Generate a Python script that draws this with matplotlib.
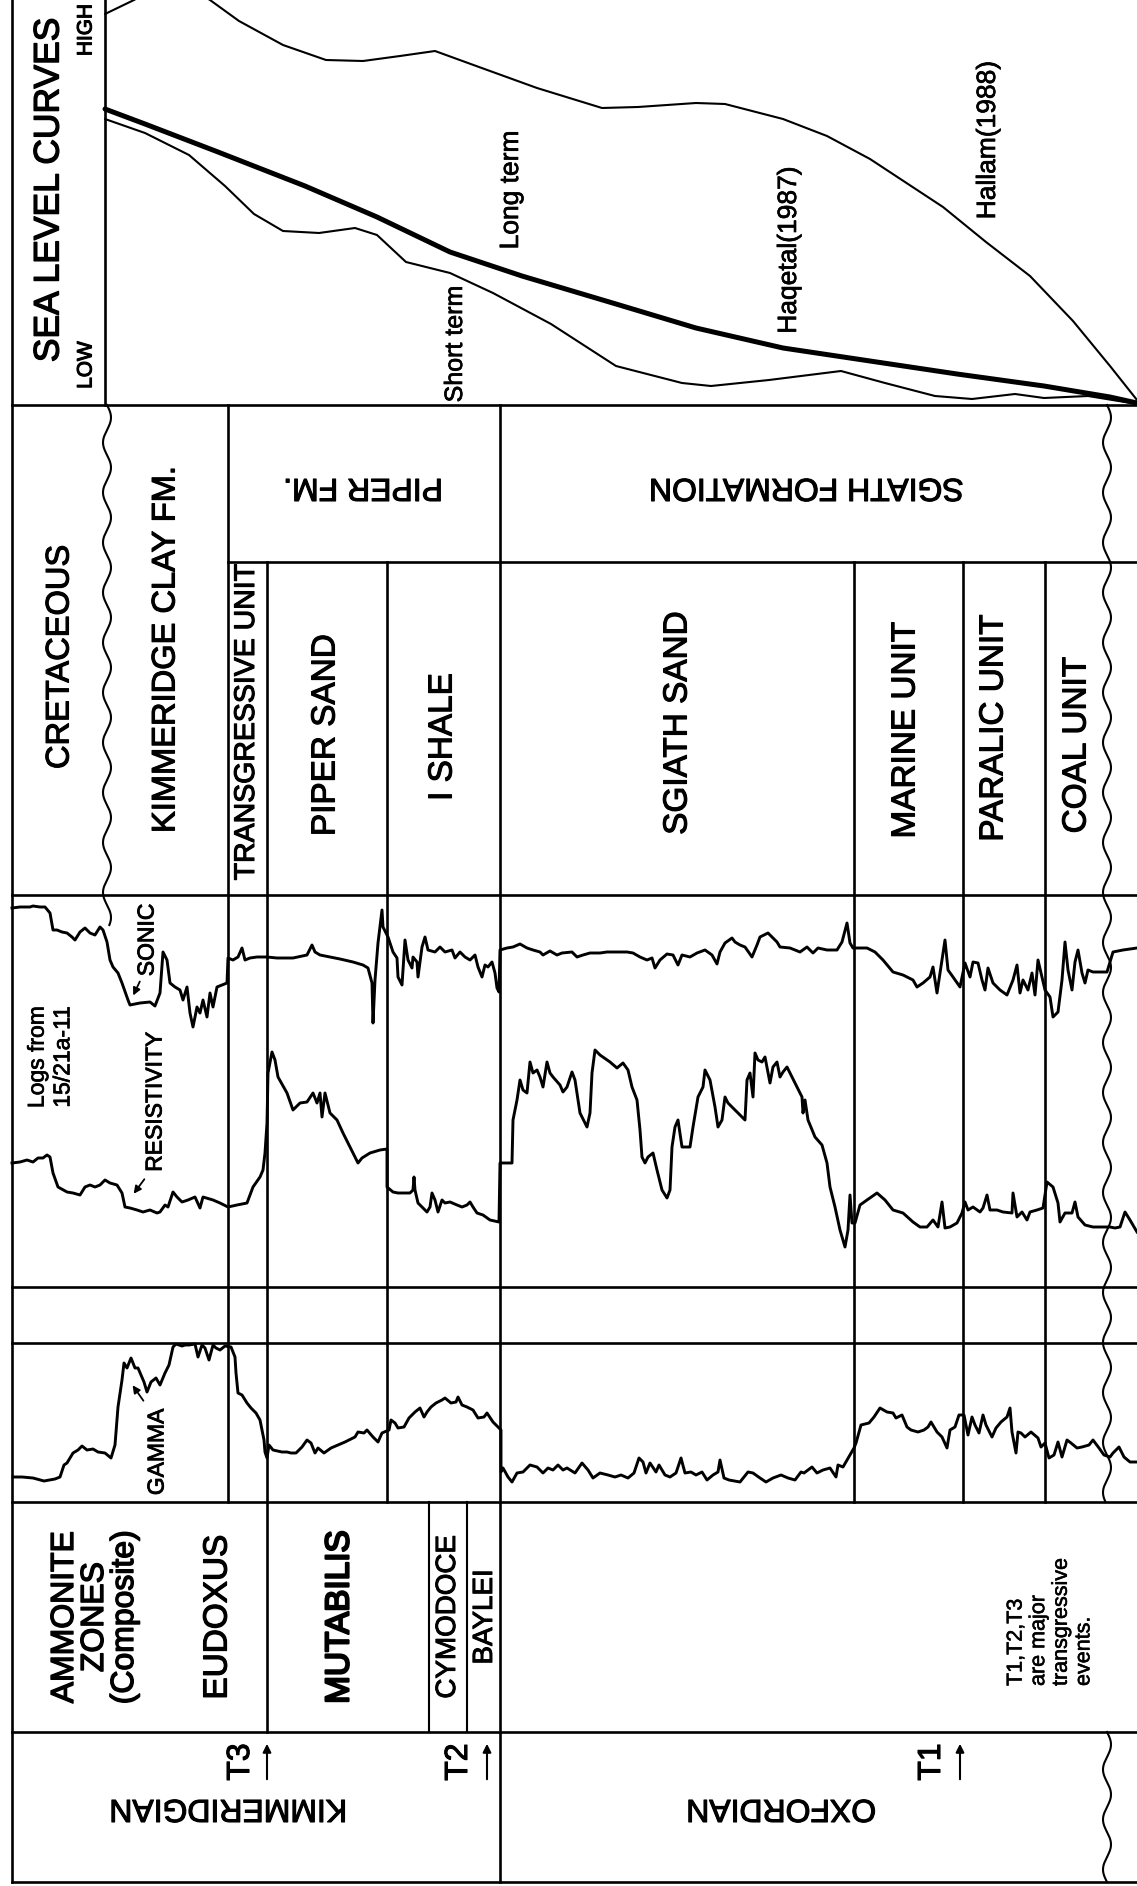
import numpy as np
import matplotlib
matplotlib.use('Agg')
import matplotlib.pyplot as plt
import matplotlib.patheffects as pe

plt.rcParams['font.family'] = ['Liberation Sans', 'DejaVu Sans']

# ---- layout of the column (pixel units, depth runs left -> right) ----
W, H = 1137, 1886
left_edge = 12
sea_axis = 105
row_edges = {'sea': 405, 'fm': 562, 'logs': 895, 'gap': 1287,
             'gamma': 1343, 'ammo': 1502, 'stage': 1732, 'bottom': 1882}
unit_edges = [228, 267, 387, 500, 854, 963, 1045]
ammo_edges = [267, 429, 467, 500]
unconf_top = 107
unconf_base = 1107

# ---- sea level curves (depth, level) ----
hallam = [(105, 14), (134, 0), (160, -15), (190, -12), (210, 0), (239, 21), (283, 45),
          (326, 60), (363, 61), (400, 56), (435, 51), (479, 67), (537, 88), (602, 108),
          (638, 107), (696, 103), (725, 104), (783, 119), (827, 136), (870, 159),
          (943, 207), (986, 242), (1030, 276), (1073, 321), (1110, 366), (1137, 400)]
long_term = [(105, 109), (145, 124), (218, 152), (305, 186), (377, 217), (450, 252),
             (522, 276), (616, 304), (696, 328), (783, 348), (870, 361), (957, 374),
             (1044, 386), (1110, 397), (1137, 403)]
short_term = [(105, 119), (145, 133), (189, 155), (225, 186), (254, 214), (283, 231),
              (319, 233), (355, 228), (377, 235), (406, 262), (450, 273), (493, 293),
              (551, 324), (616, 366), (682, 383), (711, 386), (769, 380), (841, 371),
              (885, 383), (935, 396), (972, 399), (1015, 394), (1044, 398), (1088, 396),
              (1137, 404)]

# ---- well logs 15/21a-11 (depth, trace) ----
sonic = [(12, 908), (20, 907), (30, 907), (33, 906), (40, 907), (45, 907), (50, 913),
         (53, 930), (57, 930), (62, 932), (67, 933), (72, 937), (75, 940), (80, 932),
         (85, 928), (90, 933), (95, 935), (100, 927), (103, 930), (107, 942), (110, 960),
         (113, 967), (118, 973), (122, 983), (128, 1000), (130, 1005), (140, 1003),
         (150, 1002), (155, 1006), (160, 993), (163, 952), (167, 960), (170, 983),
         (175, 987), (180, 990), (183, 1000), (187, 987), (190, 1013), (193, 1027),
         (197, 1007), (200, 1013), (203, 1000), (207, 1017), (210, 993), (213, 1007),
         (217, 987), (222, 985), (227, 983), (228, 958), (233, 960), (238, 957),
         (242, 948), (245, 960), (250, 958), (257, 957), (267, 957), (277, 958),
         (293, 958), (307, 955), (312, 945), (315, 952), (320, 955), (330, 957),
         (340, 959), (353, 962), (363, 965), (368, 968), (372, 983), (373, 1023),
         (375, 980), (378, 943), (382, 910), (383, 927), (388, 937), (390, 943),
         (393, 952), (397, 958), (398, 977), (402, 985), (405, 940), (408, 960),
         (412, 968), (413, 957), (417, 962), (418, 977), (422, 947), (425, 937),
         (428, 950), (435, 952), (440, 947), (445, 952), (452, 950), (455, 958),
         (460, 952), (465, 957), (470, 960), (475, 955), (478, 967), (482, 977),
         (485, 965), (488, 967), (492, 962), (495, 973), (497, 988), (499, 992),
         (500, 950), (507, 948), (513, 947), (520, 944), (527, 948), (533, 950),
         (540, 952), (543, 955), (550, 951), (557, 955), (562, 953), (572, 952),
         (577, 957), (583, 955), (590, 953), (600, 953), (607, 952), (613, 952),
         (627, 952), (633, 953), (640, 957), (647, 960), (652, 958), (655, 968),
         (660, 960), (667, 954), (673, 955), (678, 965), (682, 955), (690, 957),
         (697, 953), (705, 950), (712, 955), (717, 964), (720, 952), (725, 943),
         (732, 938), (735, 942), (740, 945), (745, 947), (752, 957), (757, 945),
         (760, 937), (768, 933), (770, 935), (777, 942), (780, 947), (790, 948),
         (800, 952), (807, 947), (813, 953), (818, 948), (827, 950), (837, 950),
         (842, 942), (847, 923), (850, 943), (853, 948), (867, 948), (875, 952),
         (883, 960), (893, 972), (903, 975), (913, 980), (917, 987), (923, 983),
         (930, 977), (933, 967), (937, 993), (942, 960), (945, 940), (948, 970),
         (953, 977), (960, 987), (965, 963), (970, 977), (973, 962), (978, 963),
         (982, 980), (985, 990), (988, 968), (993, 983), (1000, 990), (1007, 995),
         (1013, 980), (1017, 965), (1020, 993), (1023, 980), (1028, 990), (1032, 973),
         (1035, 995), (1038, 960), (1042, 977), (1045, 990), (1050, 997), (1053, 1017),
         (1058, 1012), (1062, 980), (1065, 942), (1068, 970), (1072, 990), (1075, 962),
         (1078, 950), (1082, 973), (1085, 983), (1088, 970), (1093, 972), (1107, 972),
         (1113, 952), (1123, 950), (1137, 948)]

resistivity = [(12, 1163), (20, 1162), (27, 1160), (33, 1162), (38, 1158), (43, 1158),
               (47, 1155), (50, 1157), (53, 1173), (58, 1187), (67, 1192), (73, 1193),
               (80, 1195), (85, 1187), (90, 1185), (95, 1187), (100, 1185), (105, 1180),
               (110, 1183), (117, 1185), (122, 1193), (125, 1207), (130, 1208),
               (137, 1210), (143, 1212), (150, 1210), (157, 1213), (160, 1212),
               (165, 1205), (168, 1207), (173, 1192), (177, 1197), (182, 1202),
               (188, 1200), (195, 1197), (200, 1208), (203, 1197), (213, 1200),
               (220, 1203), (228, 1207), (237, 1205), (247, 1203), (253, 1187),
               (260, 1177), (263, 1170), (265, 1153), (267, 1123), (268, 1073),
               (272, 1052), (275, 1060), (278, 1077), (287, 1093), (293, 1110),
               (300, 1103), (307, 1102), (313, 1093), (317, 1103), (320, 1093),
               (322, 1117), (325, 1093), (330, 1113), (337, 1120), (343, 1133),
               (350, 1147), (358, 1163), (362, 1158), (370, 1153), (380, 1150),
               (387, 1149), (387, 1187), (393, 1192), (398, 1193), (405, 1193),
               (410, 1193), (413, 1190), (414, 1177), (415, 1190), (418, 1203),
               (423, 1208), (427, 1212), (430, 1207), (432, 1193), (435, 1200),
               (438, 1212), (442, 1200), (445, 1203), (450, 1202), (457, 1205),
               (462, 1207), (467, 1205), (470, 1202), (473, 1207), (477, 1213),
               (483, 1215), (490, 1220), (499, 1222), (500, 1163), (512, 1163),
               (513, 1120), (517, 1100), (520, 1080), (523, 1090), (527, 1093),
               (530, 1062), (533, 1073), (537, 1070), (540, 1077), (543, 1087),
               (547, 1062), (550, 1073), (553, 1077), (560, 1085), (563, 1092),
               (567, 1087), (572, 1072), (575, 1080), (580, 1113), (587, 1127),
               (590, 1113), (592, 1073), (595, 1050), (600, 1055), (610, 1062),
               (617, 1068), (623, 1063), (628, 1070), (632, 1087), (637, 1100),
               (640, 1130), (642, 1157), (645, 1163), (648, 1157), (653, 1153),
               (657, 1170), (662, 1190), (667, 1198), (670, 1190), (672, 1147),
               (675, 1127), (678, 1120), (682, 1147), (685, 1147), (690, 1147),
               (693, 1127), (698, 1097), (703, 1087), (705, 1070), (710, 1080),
               (715, 1107), (718, 1127), (722, 1120), (725, 1097), (728, 1103),
               (735, 1110), (742, 1117), (745, 1120), (747, 1080), (750, 1073),
               (753, 1097), (755, 1053), (758, 1060), (762, 1062), (765, 1057),
               (770, 1083), (773, 1067), (777, 1062), (780, 1077), (783, 1072),
               (787, 1067), (792, 1077), (797, 1087), (802, 1097), (803, 1113),
               (805, 1100), (808, 1120), (815, 1137), (822, 1145), (827, 1163),
               (830, 1187), (835, 1207), (840, 1230), (845, 1247), (848, 1230),
               (850, 1195), (852, 1223), (855, 1223), (860, 1205), (867, 1200),
               (877, 1193), (885, 1200), (893, 1210), (903, 1213), (913, 1222),
               (920, 1227), (927, 1227), (933, 1220), (938, 1227), (942, 1202),
               (945, 1228), (950, 1227), (957, 1223), (962, 1213), (965, 1202),
               (968, 1210), (973, 1207), (980, 1212), (983, 1208), (987, 1195),
               (990, 1210), (997, 1210), (1003, 1212), (1012, 1213), (1013, 1193),
               (1017, 1217), (1022, 1212), (1027, 1220), (1030, 1212), (1037, 1210),
               (1043, 1208), (1047, 1182), (1053, 1187), (1058, 1203), (1060, 1222),
               (1065, 1213), (1072, 1213), (1075, 1202), (1078, 1217), (1085, 1225),
               (1093, 1227), (1103, 1227), (1110, 1227), (1115, 1228), (1120, 1227),
               (1125, 1212), (1130, 1220), (1137, 1232)]

gamma = [(13, 1477), (22, 1477), (33, 1478), (44, 1481), (55, 1479), (60, 1477),
         (64, 1465), (67, 1463), (73, 1453), (78, 1450), (82, 1446), (87, 1450),
         (93, 1449), (98, 1452), (105, 1453), (111, 1458), (115, 1445), (118, 1407),
         (122, 1380), (124, 1363), (127, 1368), (131, 1358), (135, 1368), (138, 1368),
         (144, 1382), (147, 1392), (151, 1382), (156, 1378), (160, 1385), (165, 1373),
         (169, 1365), (173, 1347), (176, 1344), (182, 1346), (185, 1345), (189, 1345),
         (195, 1344), (198, 1357), (202, 1345), (205, 1348), (209, 1360), (213, 1345),
         (216, 1348), (220, 1350), (225, 1346), (231, 1347), (235, 1357), (236, 1373),
         (238, 1393), (242, 1395), (247, 1403), (251, 1408), (256, 1413), (260, 1420),
         (264, 1440), (265, 1452), (267, 1458), (269, 1445), (273, 1450), (282, 1452),
         (287, 1452), (291, 1453), (296, 1453), (302, 1447), (307, 1440), (311, 1443),
         (315, 1453), (318, 1448), (324, 1453), (331, 1448), (338, 1445), (345, 1442),
         (355, 1437), (358, 1432), (364, 1433), (367, 1430), (373, 1437), (378, 1442),
         (382, 1433), (389, 1430), (391, 1420), (395, 1423), (398, 1428), (404, 1427),
         (409, 1418), (415, 1412), (420, 1408), (424, 1417), (427, 1412), (431, 1407),
         (436, 1403), (442, 1400), (445, 1398), (451, 1403), (456, 1402), (458, 1397),
         (462, 1405), (467, 1407), (473, 1410), (478, 1418), (484, 1417), (487, 1413),
         (493, 1422), (498, 1427), (501, 1430), (501, 1472), (503, 1468), (508, 1477),
         (512, 1482), (517, 1473), (523, 1472), (530, 1465), (537, 1467), (543, 1473),
         (548, 1468), (553, 1470), (558, 1465), (563, 1470), (567, 1468), (575, 1473),
         (582, 1463), (588, 1470), (593, 1478), (600, 1473), (608, 1475), (615, 1477),
         (621, 1475), (628, 1478), (634, 1473), (639, 1458), (643, 1462), (646, 1473),
         (650, 1463), (656, 1472), (659, 1465), (665, 1475), (670, 1477), (676, 1473),
         (681, 1458), (685, 1473), (691, 1472), (696, 1475), (702, 1472), (707, 1480),
         (713, 1475), (718, 1472), (720, 1460), (724, 1478), (729, 1480), (740, 1482),
         (748, 1472), (753, 1473), (760, 1478), (766, 1482), (773, 1478), (781, 1475),
         (788, 1478), (795, 1480), (801, 1472), (804, 1473), (812, 1467), (817, 1473),
         (823, 1470), (830, 1468), (836, 1477), (838, 1465), (843, 1467), (850, 1455),
         (854, 1448), (856, 1443), (861, 1425), (869, 1423), (874, 1417), (880, 1408),
         (887, 1412), (893, 1413), (896, 1418), (902, 1415), (907, 1427), (911, 1430),
         (918, 1432), (924, 1430), (928, 1427), (931, 1422), (937, 1432), (942, 1437),
         (947, 1448), (950, 1430), (955, 1427), (959, 1415), (964, 1415), (968, 1435),
         (972, 1417), (975, 1425), (979, 1433), (983, 1415), (986, 1425), (992, 1437),
         (996, 1428), (1001, 1422), (1007, 1417), (1010, 1408), (1012, 1432),
         (1016, 1453), (1018, 1432), (1021, 1433), (1025, 1437), (1031, 1432),
         (1038, 1438), (1041, 1447), (1045, 1443), (1049, 1458), (1054, 1455),
         (1058, 1442), (1062, 1457), (1067, 1440), (1071, 1443), (1077, 1448),
         (1082, 1447), (1089, 1445), (1093, 1440), (1099, 1448), (1104, 1455),
         (1110, 1457), (1113, 1453), (1119, 1447), (1124, 1457), (1130, 1462),
         (1137, 1462)]

# ---- labels ----
curve_labels = [('Long term', 511, 190, 19), ('Short term', 455, 344, 18),
                ('Haqetal(1987)', 789, 250, 19), ('Hallam(1988)', 988, 140, 19)]
formation_labels = [('PIPER FM.', 363), ('SGIATH FORMATION', 806)]
unit_labels = [('TRANSGRESSIVE UNIT', 247, 722, 20.5), ('PIPER SAND', 326, 735, 24),
               ('I SHALE', 443, 737, 24), ('SGIATH SAND', 678, 723, 24),
               ('MARINE UNIT', 906, 730, 24), ('PARALIC UNIT', 994, 728, 24),
               ('COAL UNIT', 1077, 745, 24)]
zone_labels = [('EUDOXUS', 218, 24, 0.9), ('MUTABILIS', 340, 24, 1.6),
               ('CYMODOCE', 448, 20, 0.7), ('BAYLEI', 485, 20, 0.7)]
stage_labels = [('KIMMERIDGIAN', 228), ('OXFORDIAN', 781)]
events = [('T3', 241, 267), ('T2', 459, 487), ('T1', 932, 960)]


def wavy(x0, y0, y1, amp=4, period=50):
    y = np.linspace(y0, y1, int(y1 - y0) + 1)
    return x0 + amp * np.sin(2 * np.pi * (y - y0) / period), y


def label(ax, x, y, s, size, rot=90, heavy=0.8, **kw):
    kw.setdefault('ha', 'center')
    kw.setdefault('va', 'center')
    fx = [pe.withStroke(linewidth=heavy, foreground='k')]
    return ax.text(x, y, s, fontsize=size, rotation=rot, path_effects=fx, **kw)


def main():
    fig = plt.figure(figsize=(W / 100, H / 100), dpi=100)
    ax = fig.add_axes([0, 0, 1, 1])
    ax.set_xlim(0, W)
    ax.set_ylim(H, 0)
    ax.axis('off')

    lw = 1.9
    r = row_edges

    # horizontal rules
    for key in ['sea', 'logs', 'gap', 'gamma', 'ammo', 'stage', 'bottom']:
        ax.plot([left_edge, W], [r[key], r[key]], color='k', lw=lw)
    ax.plot([unit_edges[0], W], [r['fm'], r['fm']], color='k', lw=lw)

    # vertical rules
    ax.plot([left_edge, left_edge], [0, r['bottom']], color='k', lw=lw)
    ax.plot([sea_axis, sea_axis], [0, r['sea']], color='k', lw=lw)
    ax.plot([unit_edges[0]] * 2, [r['sea'], r['ammo']], color='k', lw=lw)
    ax.plot([unit_edges[3]] * 2, [r['sea'], r['bottom']], color='k', lw=lw)
    ax.plot([unit_edges[1]] * 2, [r['fm'], r['stage']], color='k', lw=lw)
    for x in [unit_edges[2]] + unit_edges[4:]:
        ax.plot([x, x], [r['fm'], r['ammo']], color='k', lw=lw)
    for x in ammo_edges[1:3]:
        ax.plot([x, x], [r['ammo'], r['stage']], color='k', lw=lw * 0.8)

    # unconformities
    for x0, y0, y1 in [(unconf_top, r['sea'], 925), (unconf_base, r['sea'], r['ammo']),
                       (unconf_base, r['stage'], r['bottom'])]:
        wx, wy = wavy(x0, y0, y1)
        ax.plot(wx, wy, color='k', lw=1.5)

    # sea level curves
    for pts, w in [(hallam, 1.5), (short_term, 1.5), (long_term, 3.6)]:
        xs, ys = zip(*pts)
        ax.plot(xs, ys, color='k', lw=w, solid_capstyle='round')

    # logs
    for pts in [sonic, resistivity, gamma]:
        xs, ys = zip(*pts)
        ax.plot(xs, ys, color='k', lw=2.1, solid_joinstyle='round')

    # sea level text
    label(ax, 49, 190, 'SEA LEVEL CURVES', 25.5, heavy=1.0)
    label(ax, 86, 365, 'LOW', 15)
    label(ax, 86, 30, 'HIGH', 15)
    for name, x, y, s in curve_labels:
        label(ax, x, y, name, s, heavy=0.5)

    # lithostratigraphy
    label(ax, 60, 657, 'CRETACEOUS', 23.5)
    label(ax, 166, 650, 'KIMMERIDGE CLAY FM.', 23.5)
    for name, x in formation_labels:
        label(ax, x, 487, name, 23, rot=180)
    for name, x, y, s in unit_labels:
        label(ax, x, y, name, s)

    # log labels and pointers
    label(ax, 50, 1057, 'Logs from\n15/21a-11', 16.5, heavy=0.5, linespacing=1.15)
    label(ax, 147, 940, 'SONIC', 16.5, heavy=0.6)
    label(ax, 155, 1102, 'RESISTIVITY', 16.5, heavy=0.6)
    label(ax, 157, 1452, 'GAMMA', 16.5, heavy=0.6)
    arrow = dict(arrowstyle='-|>', color='k', lw=1.3, mutation_scale=11)
    for head, tail in [((132, 998), (141, 979)), ((132, 1196), (146, 1177)),
                       ((131, 1383), (145, 1403))]:
        ax.annotate('', xy=head, xytext=tail, arrowprops=arrow)

    # ammonite zones
    label(ax, 95, 1617, 'AMMONITE\nZONES\n(Composite)', 23, linespacing=1.0, heavy=1.0)
    for name, x, s, hv in zone_labels:
        label(ax, x, 1617, name, s, heavy=hv)
    label(ax, 1050, 1686, 'T1,T2,T3\nare major\ntransgressive\nevents.', 15.5,
          heavy=0.4, va='bottom', multialignment='left', linespacing=1.1)

    # stages and transgressive events
    for name, x in stage_labels:
        label(ax, x, 1808, name, 23, rot=180)
    for name, tx, ax_x in events:
        label(ax, tx, 1762, name, 23)
        ax.annotate('', xy=(ax_x, 1741), xytext=(ax_x, 1782),
                    arrowprops=dict(arrowstyle='-|>', color='k', lw=1.5,
                                    mutation_scale=12))

    fig.savefig('out.png', dpi=100, facecolor='white')


if __name__ == "__main__":
    main()
